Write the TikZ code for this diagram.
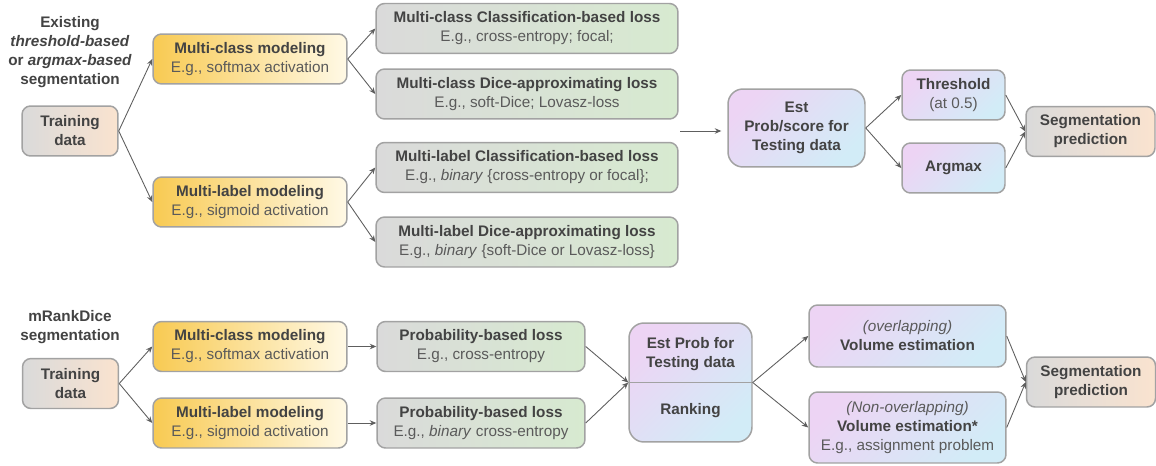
\documentclass[tikz,border=0pt]{standalone}
\usepackage{fontspec}
\setmainfont{Liberation Sans}
\usepackage{xcolor}
\usetikzlibrary{arrows.meta, positioning, calc}

\definecolor{boxline}{HTML}{A2A2A2}
\definecolor{txtdark}{HTML}{434343}
\definecolor{txtsub}{HTML}{5A5A5A}
\definecolor{arrowgray}{HTML}{5E5E5E}
\definecolor{graystart}{HTML}{DADADA}
\definecolor{peach}{HTML}{FAE3CF}
\definecolor{gold}{HTML}{F8CA52}
\definecolor{cream}{HTML}{FFF9E6}
\definecolor{lossgreen}{HTML}{D7EAD0}
\definecolor{lilac}{HTML}{EDD4F4}
\definecolor{skyblue}{HTML}{D2ECF7}

\newcommand{\egline}[1]{{\normalfont\color{txtsub}#1}}

\begin{document}
\begin{tikzpicture}[
        x=0.02cm, y=-0.02cm,
        box/.style={
            draw=boxline,
            line width=0.85pt,
            rounded corners=0.17cm,
            align=center,
            inner sep=0pt,
            minimum height=1cm,
            text=txtdark,
            font=\fontsize{8.7}{10.8}\selectfont\bfseries
        },
        trainbox/.style={
            box, left color=graystart, right color=peach,
            minimum width=1.92cm
        },
        modelbox/.style={
            box, left color=gold, right color=cream,
            minimum width=3.88cm
        },
        lossbox/.style={
            box, left color=graystart, right color=lossgreen
        },
        estbox/.style={
            box, left color=lilac, right color=skyblue,
            shading angle=45
        },
        heading/.style={
            align=center,
            text=txtdark,
            font=\fontsize{8.7}{10.8}\selectfont\bfseries
        },
        arrow/.style={
            -{Stealth[length=1.3mm, width=1.1mm]},
            draw=arrowgray,
            line width=0.5pt
        }
    ]

    \useasboundingbox (0,0) rectangle (1156,466);

    % Existing segmentation
    \node[heading] (toplabel) at (70,52) {
        Existing\\
        \textit{threshold-based}\\
        or \textit{argmax-based}\\
        segmentation
    };

    \node[trainbox] (train1) at (70,131) {Training\\data};

    \node[modelbox] (mclass1) at (250,59) {
        Multi-class modeling\\
        \egline{E.g., softmax activation}
    };

    \node[modelbox] (mlabel1) at (250,202) {
        Multi-label modeling\\
        \egline{E.g., sigmoid activation}
    };

    \node[lossbox, minimum width=6.04cm] (mcce) at (527,28.5) {
        Multi-class Classification-based loss\\
        \egline{E.g., cross-entropy; focal;}
    };

    \node[lossbox, minimum width=6.04cm] (mcdice) at (527,94) {
        Multi-class Dice-approximating loss\\
        \egline{E.g., soft-Dice; Lovasz-loss}
    };

    \node[lossbox, minimum width=6.04cm] (mlce) at (527,167.5) {
        Multi-label Classification-based loss\\
        \egline{E.g., \textit{binary} \{cross-entropy or focal\};}
    };

    \node[lossbox, minimum width=6.04cm] (mldice) at (527,242) {
        Multi-label Dice-approximating loss\\
        \egline{E.g., \textit{binary} \{soft-Dice or Lovasz-loss\}}
    };

    \coordinate (gap) at (680,131);

    \node[estbox, minimum width=2.74cm, minimum height=1.56cm,
          rounded corners=0.3cm] (estscore) at (796.5,128) {
        Est\\
        Prob/score for\\
        Testing data
    };

    \node[estbox, minimum width=2.06cm] (thresh) at (953.5,95) {
        Threshold\\
        \egline{(at 0.5)}
    };

    \node[estbox, minimum width=2.06cm] (argmax) at (953.5,168) {Argmax};

    \node[trainbox, minimum width=2.58cm] (segpred1) at (1090.5,131.5) {
        Segmentation\\
        prediction
    };

    \draw[arrow] (train1.east) -- (mclass1.west);
    \draw[arrow] (train1.east) -- (mlabel1.west);
    \draw[arrow] (mclass1.east) -- (mcce.west);
    \draw[arrow] (mclass1.east) -- (mcdice.west);
    \draw[arrow] (mlabel1.east) -- (mlce.west);
    \draw[arrow] (mlabel1.east) -- (mldice.west);
    \draw[arrow, shorten >=3.4pt] (gap) -- (gap -| estscore.west);
    \draw[arrow] (estscore.east) -- (thresh.west);
    \draw[arrow] (estscore.east) -- (argmax.west);
    \draw[arrow] (thresh.east) -- (segpred1.west);
    \draw[arrow] (argmax.east) -- (segpred1.west);

    % mRankDice segmentation
    \node[heading] (botlabel) at (70,327.5) {
        mRankDice\\
        segmentation
    };

    \node[trainbox] (train2) at (70.5,383.5) {Training\\data};

    \node[modelbox] (mclass2) at (250,346.5) {
        Multi-class modeling\\
        \egline{E.g., softmax activation}
    };

    \node[modelbox] (mlabel2) at (250,423) {
        Multi-label modeling\\
        \egline{E.g., sigmoid activation}
    };

    \node[lossbox, minimum width=4.16cm] (probce) at (481,346.5) {
        Probability-based loss\\
        \egline{E.g., cross-entropy}
    };

    \node[lossbox, minimum width=4.16cm] (probbce) at (481,423) {
        Probability-based loss\\
        \egline{E.g., \textit{binary} cross-entropy}
    };

    \node[estbox, minimum width=2.46cm, minimum height=2.38cm,
          rounded corners=0.3cm] (estrank) at (690.5,382.5) {};
    \draw[draw=boxline, line width=0.85pt] (estrank.west) -- (estrank.east);
    \node[heading] (estprob) at (690.5,354) {Est Prob for\\Testing data};
    \node[heading] (ranking) at (690.5,411) {Ranking};

    \node[estbox, minimum width=3.94cm, minimum height=1.24cm] (volover) at (907.5,336) {
        \egline{\textit{(overlapping)}}\\
        Volume estimation
    };

    \node[estbox, minimum width=3.94cm, minimum height=1.42cm] (volnon) at (907.5,427.5) {
        \egline{\textit{(Non-overlapping)}}\\
        Volume estimation*\\
        \egline{E.g., assignment problem}
    };

    \node[trainbox, minimum width=2.58cm] (segpred2) at (1091,382) {
        Segmentation\\
        prediction
    };

    \draw[arrow] (train2.east) -- (mclass2.west);
    \draw[arrow] (train2.east) -- (mlabel2.west);
    \draw[arrow] (mclass2.east) -- (probce.west);
    \draw[arrow] (mlabel2.east) -- (probbce.west);
    \draw[arrow] (probce.east) -- (estrank.west);
    \draw[arrow] (probbce.east) -- (estrank.west);
    \draw[arrow] (estrank.east) -- (volover.west);
    \draw[arrow] (estrank.east) -- (volnon.west);
    \draw[arrow] (volover.east) -- (segpred2.west);
    \draw[arrow] (volnon.east) -- (segpred2.west);

\end{tikzpicture}
\end{document}
